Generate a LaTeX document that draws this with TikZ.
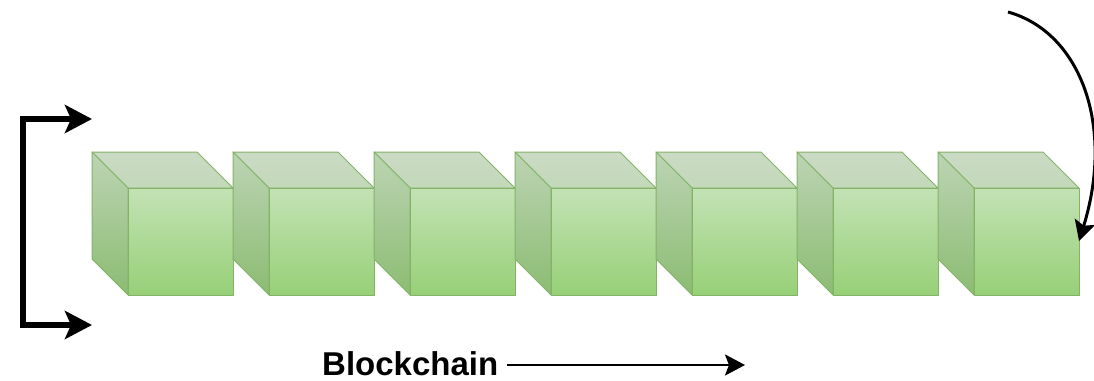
\documentclass[tikz,border=0pt]{standalone}
\usepackage{fontspec}
\setmainfont{Liberation Sans}
\usetikzlibrary{arrows.meta}
\definecolor{cstroke}{HTML}{82B366}
\definecolor{frontTop}{HTML}{C3E2B5}
\definecolor{frontBot}{HTML}{97D077}
\definecolor{sideTop}{HTML}{BCD4B4}
\definecolor{sideBot}{HTML}{8CBC72}
\definecolor{topTop}{HTML}{CBDAC5}
\definecolor{topBot}{HTML}{C2D9B8}
\tikzset{
  face/.style={draw=cstroke, line width=1pt, line join=round},
  conn/.style={draw=black, line width=6pt, -{Stealth[length=27pt,width=28pt,inset=6pt]}},
  thin conn/.style={draw=black, line width=3pt, -{Stealth[length=20pt,width=21pt,inset=4pt]}},
  label/.style={font=\bfseries\fontsize{33}{37}\selectfont, inner sep=0pt, text depth=0pt, anchor=base west}
}
\begin{document}
\begin{tikzpicture}[x=1pt,y=-1pt]
\useasboundingbox (0,0) rectangle (1094,380);
\foreach \i in {0,...,6}{
  \pgfmathsetmacro{\xo}{92+141*\i}
  % top face
  \shade[face, top color=topTop, bottom color=topBot]
    (\xo,152) -- (\xo+105,152) -- (\xo+141,188) -- (\xo+36,188) -- cycle;
  % side face
  \shade[face, top color=sideTop, bottom color=sideBot]
    (\xo,152) -- (\xo+36,188) -- (\xo+36,295) -- (\xo,259) -- cycle;
  % front face
  \shade[face, top color=frontTop, bottom color=frontBot]
    (\xo+36,188) rectangle (\xo+141,295);
  \coordinate (c\i) at (\xo+36,188);
}
\coordinate (lastfront) at (1079,241);
% left bracket
\coordinate (bt) at (92,119);
\coordinate (bb) at (92,325);
\draw[conn] (20,119) -- (bt);
\draw[conn] (23,116) -- (23,325) -- (bb);
% curved arrow
\coordinate (cstart) at (1008,12);
\draw[thin conn] (cstart) .. controls (1080,32) and (1115,125) .. (lastfront);
% label
\node[label] (lbl) at (322,375) {Blockchain};
\coordinate (arrend) at (745,365);
\draw[thin conn, line width=2.5pt] (lbl.east |- arrend) ++(9,0) -- (arrend);
\end{tikzpicture}
\end{document}
